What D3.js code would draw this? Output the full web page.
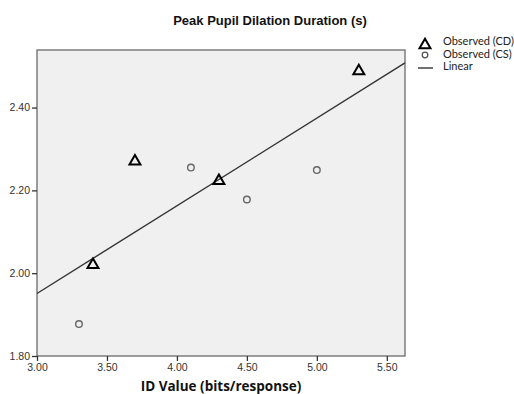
<!DOCTYPE html>
<html>
<head>
<meta charset="utf-8">
<script src="https://cdn.jsdelivr.net/npm/d3@7"></script>
<style>
  body { margin: 0; background: #fff; }
  svg { display: block; }
</style>
</head>
<body>
<div class="graphic"></div>
<script>
// data
var cdX = [3.40, 3.70, 4.30, 5.30];
var cdY = [2.02, 2.27, 2.223, 2.488];
var csX = [3.30, 4.10, 4.50, 5.00];
var csY = [1.877, 2.255, 2.178, 2.249];
// fit line end points (as drawn)
var lineX = [3.00, 5.63];
var lineY = [1.951, 2.508];
var xTicks = [3.00, 3.50, 4.00, 4.50, 5.00, 5.50];
var yTicks = [1.80, 2.00, 2.20, 2.40];
var legendLabels = ["Observed (CD)", "Observed (CS)", "Linear"];

var svg_width = 514, svg_height = 394;
var plotLeft = 37, plotTop = 50, plotRight = 405, plotBottom = 356;

var svg = d3.select(".graphic")
  .append("svg")
  .attr("width", svg_width)
  .attr("height", svg_height);

var x = d3.scaleLinear().domain([3.00, 5.63]).range([plotLeft, plotRight]);
var y = d3.scaleLinear().domain([1.80, 2.539]).range([plotBottom, plotTop]);

// plot background
svg.append("rect")
  .attr("x", plotLeft).attr("y", plotTop)
  .attr("width", plotRight - plotLeft).attr("height", plotBottom - plotTop)
  .attr("fill", "#f0f0f0")
  .attr("stroke", "#6a6a6a")
  .attr("stroke-width", 1.3);

// axes
var xAxis = svg.append("g")
  .attr("transform", "translate(0," + plotBottom + ")")
  .call(d3.axisBottom(x).tickValues(xTicks).tickFormat(d3.format(".2f")).tickSize(5).tickPadding(3).tickSizeOuter(0));
var yAxis = svg.append("g")
  .attr("transform", "translate(" + plotLeft + ",0)")
  .call(d3.axisLeft(y).tickValues(yTicks).tickFormat(d3.format(".2f")).tickSize(5).tickPadding(2).tickSizeOuter(0));

[xAxis, yAxis].forEach(function(ax){
  ax.select(".domain").remove();
  ax.selectAll(".tick line").attr("stroke", "#333").attr("stroke-width", 1.3);
  ax.selectAll(".tick text")
    .attr("fill", "#333")
    .attr("font-family", "Liberation Sans, Arial, sans-serif")
    .attr("font-size", "10.5px");
});

// fit line
svg.append("line")
  .attr("x1", x(lineX[0])).attr("y1", y(lineY[0]))
  .attr("x2", x(lineX[1])).attr("y2", y(lineY[1]))
  .attr("stroke", "#333")
  .attr("stroke-width", 1.4);

var tri = d3.symbol().type(d3.symbolTriangle).size(52);

// CS circles
svg.append("g").selectAll("circle")
  .data(csX)
  .enter()
  .append("circle")
  .attr("cx", function(d){ return x(d); })
  .attr("cy", function(d, i){ return y(csY[i]); })
  .attr("r", 3.3)
  .attr("fill", "none")
  .attr("stroke", "#666")
  .attr("stroke-width", 1.4);

// CD triangles
svg.append("g").selectAll("path")
  .data(cdX)
  .enter()
  .append("path")
  .attr("d", tri)
  .attr("transform", function(d, i){ return "translate(" + x(d) + "," + y(cdY[i]) + ")"; })
  .attr("fill", "none")
  .attr("stroke", "#000")
  .attr("stroke-width", 2);

// title
svg.append("text")
  .attr("x", 270).attr("y", 25)
  .attr("text-anchor", "middle")
  .attr("font-family", "Liberation Sans, Arial, sans-serif")
  .attr("font-weight", "bold")
  .attr("font-size", "13px")
  .attr("fill", "#111")
  .text("Peak Pupil Dilation Duration (s)");

svg.append("text")
  .attr("x", 221).attr("y", 391)
  .attr("text-anchor", "middle")
  .attr("font-family", "Open Sans, sans-serif")
  .attr("font-weight", "bold")
  .attr("font-size", "13.5px")
  .attr("fill", "#111")
  .text("ID Value (bits/response)");

// legend
var legend = svg.append("g");
legend.append("path")
  .attr("d", tri)
  .attr("transform", "translate(425,45)")
  .attr("fill", "none").attr("stroke", "#000").attr("stroke-width", 2);
legend.append("circle")
  .attr("cx", 425).attr("cy", 55).attr("r", 2.8)
  .attr("fill", "none").attr("stroke", "#555").attr("stroke-width", 1.3);
legend.append("line")
  .attr("x1", 418).attr("x2", 433).attr("y1", 68).attr("y2", 68)
  .attr("stroke", "#333").attr("stroke-width", 1.4);
legend.selectAll("text")
  .data(legendLabels)
  .enter()
  .append("text")
  .attr("x", 443)
  .attr("y", function(d, i){ return 45 + i * 12.5; })
  .attr("font-family", "Lato, sans-serif")
  .attr("font-size", "11px")
  .attr("fill", "#222")
  .text(function(d){ return d; });
</script>
</body>
</html>
